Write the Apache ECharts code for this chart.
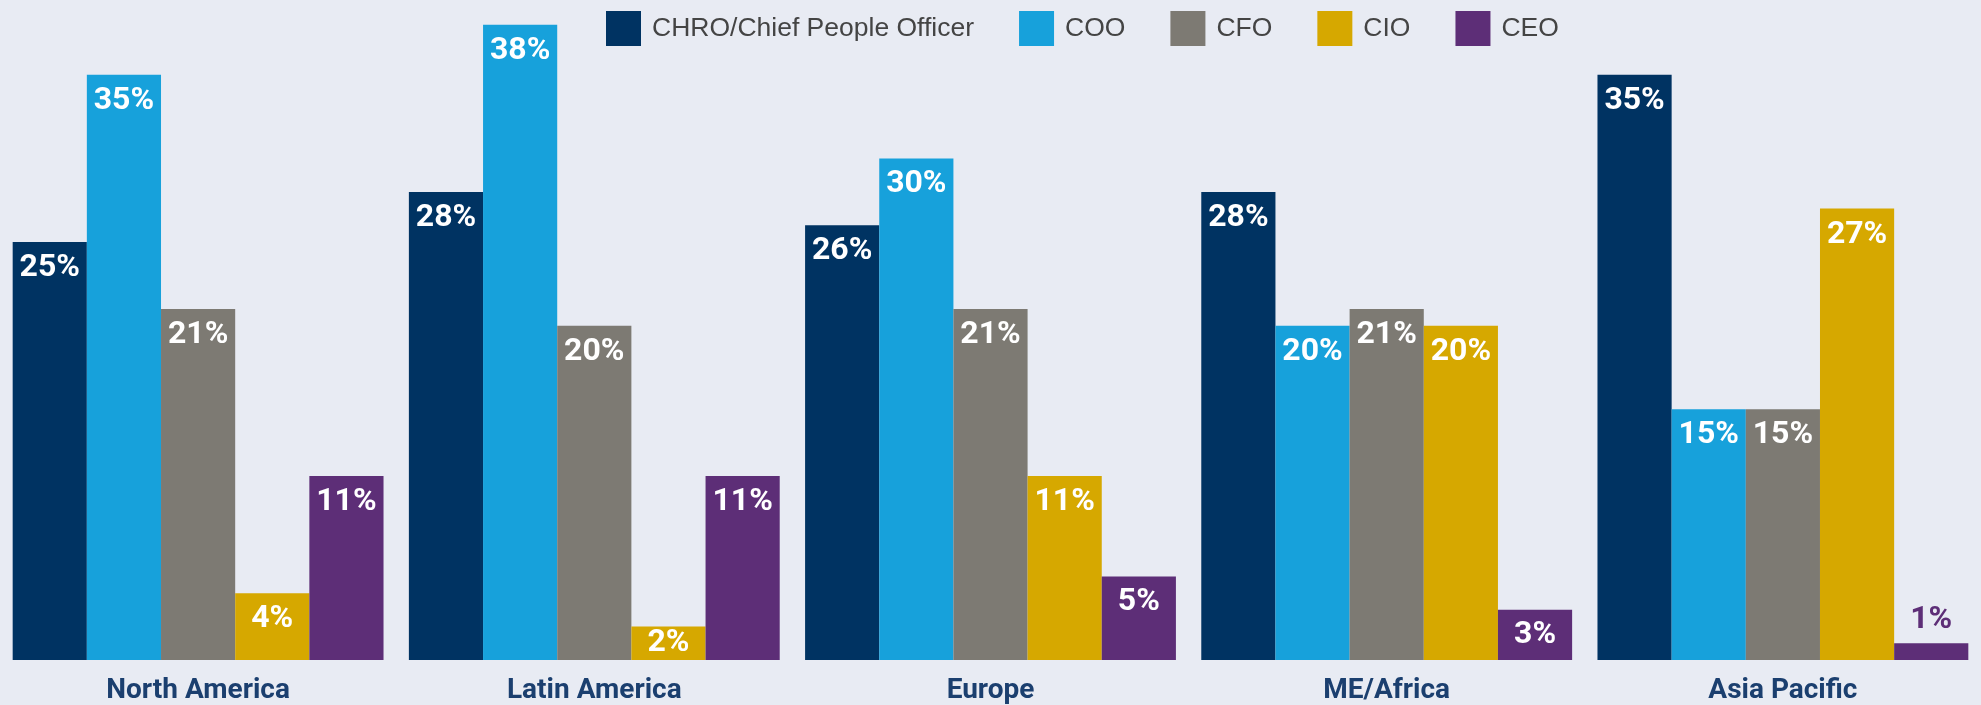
<!DOCTYPE html>
<html>
<head>
<meta charset="utf-8">
<script src="https://cdn.jsdelivr.net/npm/echarts@6/dist/echarts.min.js"></script>
<style>
  html, body { margin: 0; padding: 0; background: #e8ebf3; }
  #main { width: 1981px; height: 705px; }
</style>
</head>
<body>
<div id="main"></div>
<script>
var regions = ['North America', 'Latin America', 'Europe', 'ME/Africa', 'Asia Pacific']
var roles = ['CHRO/Chief People Officer', 'COO', 'CFO', 'CIO', 'CEO']
var chro = [25, 28, 26, 28, 35]
var coo = [35, 38, 30, 20, 15]
var cfo = [21, 20, 21, 21, 15]
var cio = [4, 2, 11, 20, 27]
var ceo = [11, 11, 5, 3, 1]

var colors = ['#003362', '#17a1db', '#7d7a73', '#d6a800', '#5d2e77']
var values = [chro, coo, cfo, cio, ceo]

// tiny bars: label centred in the bar, or above it when it doesn't fit
function barData(arr, color) {
  return arr.map(function (v) {
    if (v < 2) {
      return { value: v, label: { position: 'top', distance: 7, color: color } }
    }
    if (v <= 3) {
      return { value: v, label: { position: 'inside' } }
    }
    return v
  })
}

var chart = echarts.init(document.getElementById('main'))
chart.setOption({
  animation: false,
  backgroundColor: '#e8ebf3',
  color: colors,
  legend: {
    left: 606,
    top: 11,
    padding: 0,
    itemWidth: 35,
    itemHeight: 35,
    itemGap: 45,
    icon: 'rect',
    textStyle: {
      fontFamily: 'Liberation Sans',
      fontSize: 26.5,
      color: '#444444',
      padding: [0, 0, 0, 6]
    },
    data: roles
  },
  grid: {
    left: -3,
    right: -4,
    top: 8,
    bottom: 44
  },
  xAxis: {
    type: 'category',
    data: regions,
    axisLine: { show: false },
    axisTick: { show: false },
    axisLabel: {
      margin: 17,
      fontFamily: 'Roboto',
      fontWeight: 'bold',
      fontSize: 28,
      color: '#1b3f6f'
    }
  },
  yAxis: {
    type: 'value',
    min: 0,
    max: 39,
    show: false,
    splitLine: { show: false }
  },
  series: roles.map(function (name, i) {
    return {
      name: name,
      type: 'bar',
      barGap: '0%',
      barCategoryGap: '6.4%',
      data: barData(values[i], colors[i]),
      label: {
        show: true,
        position: 'insideTop',
        distance: 10,
        formatter: '{c}%',
        fontFamily: 'Roboto',
        fontWeight: 'bold',
        fontSize: 32,
        color: '#ffffff'
      }
    }
  })
})
</script>
</body>
</html>
